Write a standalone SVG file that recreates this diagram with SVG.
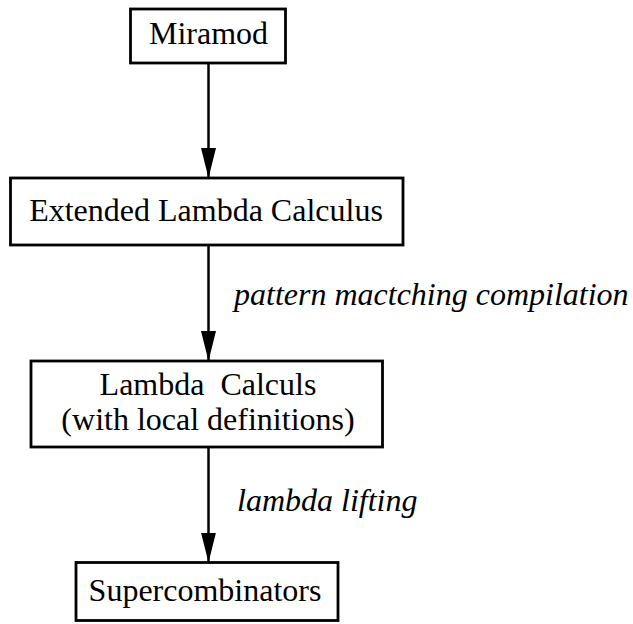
<svg xmlns="http://www.w3.org/2000/svg" width="633" height="624" viewBox="0 0 633 624">
<style>
.box{fill:#fff;stroke:#000;stroke-width:2.8}
.t{font-family:"Liberation Serif",serif;font-size:32px;fill:#000;text-anchor:middle}
.lbl{font-family:"Liberation Serif",serif;font-size:32px;font-style:italic;fill:#000}
.edge{stroke:#000;stroke-width:2.5;fill:none}
</style>
<defs>
<marker id="ah" markerUnits="userSpaceOnUse" markerWidth="30" markerHeight="15" refX="30" refY="7.5" orient="auto" viewBox="0 0 30 15">
<path d="M0,0 L30,7.5 L0,15 Z" fill="#000"/>
</marker>
</defs>
<rect width="633" height="624" fill="#fff"/>
<g id="connectors">
<line class="edge" x1="208.5" y1="63" x2="208.5" y2="178" marker-end="url(#ah)"/>
<line class="edge" x1="208.5" y1="245" x2="208.5" y2="361" marker-end="url(#ah)"/>
<line class="edge" x1="208.5" y1="447" x2="208.5" y2="562.5" marker-end="url(#ah)"/>
<text class="lbl" x="234" y="305">pattern mactching compilation</text>
<text class="lbl" x="237" y="511">lambda lifting</text>
</g>
<g id="miramod">
<rect class="box" x="130.5" y="9" width="155" height="54"/>
<text class="t" x="208.5" y="44">Miramod</text>
</g>
<g id="extended">
<rect class="box" x="10.5" y="178" width="392.5" height="67"/>
<text class="t" x="206" y="221">Extended Lambda Calculus</text>
</g>
<g id="lambda">
<rect class="box" x="31" y="361" width="351.5" height="86"/>
<text class="t" x="208" y="395" xml:space="preserve">Lambda  Calculs</text>
<text class="t" x="208" y="430">(with local definitions)</text>
</g>
<g id="super">
<rect class="box" x="76" y="562.5" width="262" height="58"/>
<text class="t" x="205" y="601">Supercombinators</text>
</g>
</svg>
